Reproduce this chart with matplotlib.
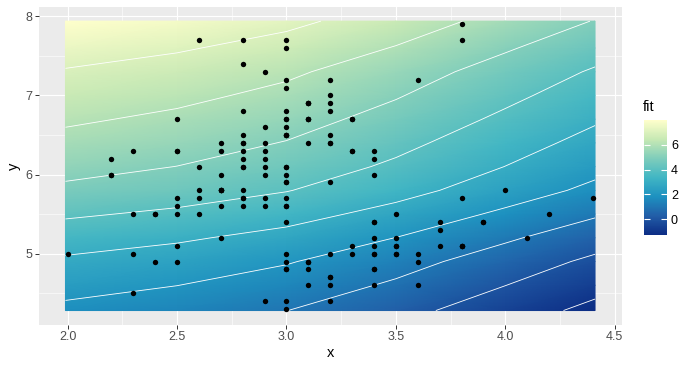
import numpy as np
import matplotlib.pyplot as plt
from matplotlib.colors import LinearSegmentedColormap

plt.rcParams['font.family'] = ['Liberation Sans', 'DejaVu Sans']

# iris: Sepal.Width on x, Sepal.Length on y
sepal_width = [
    3.5, 3.0, 3.2, 3.1, 3.6, 3.9, 3.4, 3.4, 2.9, 3.1,
    3.7, 3.4, 3.0, 3.0, 4.0, 4.4, 3.9, 3.5, 3.8, 3.8,
    3.4, 3.7, 3.6, 3.3, 3.4, 3.0, 3.4, 3.5, 3.4, 3.2,
    3.1, 3.4, 4.1, 4.2, 3.1, 3.2, 3.5, 3.6, 3.0, 3.4,
    3.5, 2.3, 3.2, 3.5, 3.8, 3.0, 3.8, 3.2, 3.7, 3.3,
    3.2, 3.2, 3.1, 2.3, 2.8, 2.8, 3.3, 2.4, 2.9, 2.7,
    2.0, 3.0, 2.2, 2.9, 2.9, 3.1, 3.0, 2.7, 2.2, 2.5,
    3.2, 2.8, 2.5, 2.8, 2.9, 3.0, 2.8, 3.0, 2.9, 2.6,
    2.4, 2.4, 2.7, 2.7, 3.0, 3.4, 3.1, 2.3, 3.0, 2.5,
    2.6, 3.0, 2.6, 2.3, 2.7, 3.0, 2.9, 2.9, 2.5, 2.8,
    3.3, 2.7, 3.0, 2.9, 3.0, 3.0, 2.5, 2.9, 2.5, 3.6,
    3.2, 2.7, 3.0, 2.5, 2.8, 3.2, 3.0, 3.8, 2.6, 2.2,
    3.2, 2.8, 2.8, 2.7, 3.3, 3.2, 2.8, 3.0, 2.8, 3.0,
    2.8, 3.8, 2.8, 2.8, 2.6, 3.0, 3.4, 3.1, 3.0, 3.1,
    3.1, 3.1, 2.7, 3.2, 3.3, 3.0, 2.5, 3.0, 3.4, 3.0,
]
sepal_length = [
    5.1, 4.9, 4.7, 4.6, 5.0, 5.4, 4.6, 5.0, 4.4, 4.9,
    5.4, 4.8, 4.8, 4.3, 5.8, 5.7, 5.4, 5.1, 5.7, 5.1,
    5.4, 5.1, 4.6, 5.1, 4.8, 5.0, 5.0, 5.2, 5.2, 4.7,
    4.8, 5.4, 5.2, 5.5, 4.9, 5.0, 5.5, 4.9, 4.4, 5.1,
    5.0, 4.5, 4.4, 5.0, 5.1, 4.8, 5.1, 4.6, 5.3, 5.0,
    7.0, 6.4, 6.9, 5.5, 6.5, 5.7, 6.3, 4.9, 6.6, 5.2,
    5.0, 5.9, 6.0, 6.1, 5.6, 6.7, 5.6, 5.8, 6.2, 5.6,
    5.9, 6.1, 6.3, 6.1, 6.4, 6.6, 6.8, 6.7, 6.0, 5.7,
    5.5, 5.5, 5.8, 6.0, 5.4, 6.0, 6.7, 6.3, 5.6, 5.5,
    5.5, 6.1, 5.8, 5.0, 5.6, 5.7, 5.7, 6.2, 5.1, 5.7,
    6.3, 5.8, 7.1, 6.3, 6.5, 7.6, 4.9, 7.3, 6.7, 7.2,
    6.5, 6.4, 6.8, 5.7, 5.8, 6.4, 6.5, 7.7, 7.7, 6.0,
    6.9, 5.6, 7.7, 6.3, 6.7, 7.2, 6.2, 6.1, 6.4, 7.2,
    7.4, 7.9, 6.4, 6.3, 6.1, 7.7, 6.3, 6.4, 6.0, 6.9,
    6.7, 6.9, 5.8, 6.8, 6.7, 6.7, 6.3, 6.5, 6.2, 5.9,
]

# fitted surface, values (rows follow fit_y, columns fit_x)
fit_x = [1.99, 2.5, 3.0, 3.5, 4.0, 4.41]
fit_y = [4.28, 4.6, 4.9, 5.2, 5.5, 5.8, 6.1, 6.4, 6.7, 7.0, 7.3, 7.6, 7.94]
fit = [
    [1.78, 1.46, 1.01, 0.31, -0.54, -1.25],
    [2.33, 2.01, 1.56, 0.86, 0.01, -0.70],
    [2.84, 2.52, 2.07, 1.37, 0.52, -0.19],
    [3.46, 3.14, 2.69, 1.99, 1.14, 0.43],
    [4.14, 3.82, 3.37, 2.67, 1.82, 1.11],
    [4.81, 4.49, 4.04, 3.34, 2.49, 1.78],
    [5.31, 4.99, 4.54, 3.84, 2.99, 2.28],
    [5.73, 5.41, 4.96, 4.26, 3.41, 2.70],
    [6.14, 5.82, 5.37, 4.67, 3.82, 3.11],
    [6.54, 6.22, 5.77, 5.07, 4.22, 3.51],
    [6.93, 6.61, 6.16, 5.46, 4.61, 3.90],
    [7.42, 7.10, 6.65, 5.95, 5.10, 4.39],
    [7.99, 7.67, 7.22, 6.52, 5.67, 4.96],
]

contour_levels = [-1, 0, 1, 2, 3, 4, 5, 6, 7]
x_ticks = [2.0, 2.5, 3.0, 3.5, 4.0, 4.5]
x_minor = [2.25, 2.75, 3.25, 3.75, 4.25]
y_ticks = [5, 6, 7, 8]
y_minor = [4.5, 5.5, 6.5, 7.5]
cbar_ticks = [0, 2, 4, 6]

# brewer YlGnBu (7 classes), dark end for low values
ylgnbu = ["#0c2c84", "#225ea8", "#1d91c0", "#41b6c4", "#7fcdbb", "#c7e9b4", "#ffffcc"]
cmap = LinearSegmentedColormap.from_list("ylgnbu", ylgnbu)

Z = np.array(fit)
vmin, vmax = Z.min(), Z.max()

fig = plt.figure(figsize=(6.96, 3.70), dpi=100)
ax = fig.add_axes([0.056, 0.1216, 0.837, 0.8604])
ax.set_facecolor("#EBEBEB")
for s in ax.spines.values():
    s.set_visible(False)

mesh = ax.pcolormesh(fit_x, fit_y, Z, shading="gouraud", cmap=cmap,
                     vmin=vmin, vmax=vmax, zorder=1)
ax.contour(fit_x, fit_y, Z, levels=contour_levels, colors="white",
           linewidths=0.6, linestyles="solid", negative_linestyles="solid", zorder=2)
ax.scatter(sepal_width, sepal_length, s=15, color="black", linewidths=0, zorder=3)

ax.set_xlim(1.869, 4.531)
ax.set_ylim(4.097, 8.123)
ax.set_xticks(x_ticks)
ax.set_xticklabels([f"{v:.1f}" for v in x_ticks])
ax.set_xticks(x_minor, minor=True)
ax.set_yticks(y_ticks)
ax.set_yticklabels([str(v) for v in y_ticks])
ax.set_yticks(y_minor, minor=True)
ax.set_axisbelow(True)
ax.grid(which="major", color="white", linewidth=0.8, zorder=0)
ax.grid(which="minor", color="white", linewidth=0.4, zorder=0)
ax.tick_params(which="major", length=2.6, width=0.7, color="#333333",
               labelsize=9, labelcolor="#4D4D4D", pad=2)
ax.tick_params(which="minor", length=0)
ax.set_xlabel("x", fontsize=10.5, labelpad=2)
ax.set_ylabel("y", fontsize=10.5, labelpad=3)

# colour bar legend
cax = fig.add_axes([0.925, 0.365, 0.033, 0.311])
cb = fig.colorbar(mesh, cax=cax)
cb.outline.set_visible(False)
cb.set_ticks(cbar_ticks)
cax.tick_params(which="major", direction="in", length=4.5, width=0.8, color="white",
                left=True, right=True, labelsize=9, labelcolor="black", pad=3)
cax.tick_params(which="minor", length=0)
fig.text(0.924, 1 - 107 / 370, "fit", fontsize=10.5, ha="left", va="center")

fig.savefig("out.png", dpi=100)
